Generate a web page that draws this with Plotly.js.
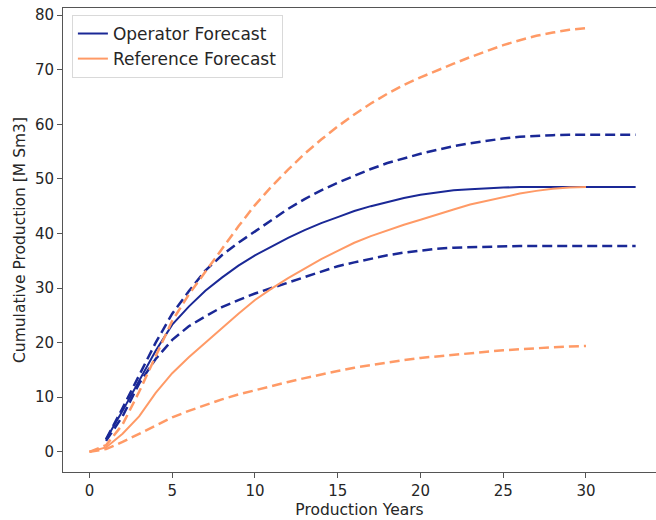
<!DOCTYPE html>
<html>
<head>
<meta charset="utf-8">
<script src="https://cdn.plot.ly/plotly-3.0.1.min.js"></script>
<style>html,body{margin:0;padding:0;background:#fff;}#chart{width:656px;height:520px;}</style>
</head>
<body>
<div id="chart"></div>
<script>
// Operator forecast (years 1..33)
const opYears = [1,2,3,4,5,6,7,8,9,10,11,12,13,14,15,16,17,18,19,20,21,22,23,24,25,26,27,28,29,30,31,32,33];
const opP50 = [2.3,7.5,13,18.5,23.3,26.6,29.5,31.9,34.1,36,37.6,39.2,40.6,41.9,43,44.1,45,45.8,46.5,47.1,47.5,47.9,48.1,48.3,48.4,48.5,48.5,48.5,48.5,48.5,48.5,48.5,48.5];
const opHigh = [2.3,8,14,20,25.3,29.4,33.2,36,38.3,40.4,42.5,44.5,46.3,47.9,49.3,50.6,51.8,52.9,53.8,54.6,55.3,56,56.5,57,57.4,57.7,57.9,58,58.1,58.1,58.1,58.1,58.1];
const opLow = [2,6.5,12.5,17,20.5,23,24.8,26.5,27.8,29,30,31,32,33,34,34.7,35.4,36,36.5,36.9,37.2,37.4,37.5,37.6,37.7,37.7,37.7,37.7,37.7,37.7,37.7,37.7,37.7];

// Reference forecast (years 0..30)
const refYears = [0,1,2,3,4,5,6,7,8,9,10,11,12,13,14,15,16,17,18,19,20,21,22,23,24,25,26,27,28,29,30];
const refP50 = [0,0.8,3.3,6.5,10.8,14.4,17.3,20,22.7,25.3,27.8,29.9,31.8,33.6,35.3,36.8,38.3,39.5,40.6,41.6,42.5,43.5,44.4,45.3,46,46.7,47.3,47.8,48.2,48.4,48.5];
const refHigh = [0,1.2,5,11,17.5,24,28.8,33,37.2,41.3,45.2,48.6,51.7,54.6,57.2,59.6,61.8,63.8,65.6,67.2,68.6,69.9,71.1,72.3,73.4,74.5,75.4,76.2,76.8,77.3,77.6];
const refLow = [0,0.5,1.8,3.3,4.9,6.3,7.5,8.6,9.6,10.5,11.3,12.1,12.8,13.5,14.2,14.8,15.4,15.9,16.4,16.8,17.2,17.5,17.8,18.1,18.4,18.6,18.8,19,19.2,19.3,19.4];

const xTicks = [0,5,10,15,20,25,30];
const yTicks = [0,10,20,30,40,50,60,70,80];

const blue = '#1a2896';
const orange = '#ff9a66';
const font = "'DejaVu Sans', sans-serif";

const traces = [
  {x: opYears, y: opP50, mode: 'lines', name: 'Operator Forecast', line: {color: blue, width: 2}},
  {x: opYears, y: opHigh, mode: 'lines', showlegend: false, line: {color: blue, width: 2.5, dash: '10px,5px'}},
  {x: opYears, y: opLow, mode: 'lines', showlegend: false, line: {color: blue, width: 2.5, dash: '10px,5px'}},
  {x: refYears, y: refP50, mode: 'lines', name: 'Reference Forecast', line: {color: orange, width: 2}},
  {x: refYears, y: refHigh, mode: 'lines', showlegend: false, line: {color: orange, width: 2.5, dash: '10px,5px'}},
  {x: refYears, y: refLow, mode: 'lines', showlegend: false, line: {color: orange, width: 2.5, dash: '10px,5px'}}
];

const layout = {
  width: 656, height: 520,
  margin: {l: 63, r: 0, t: 8, b: 48},
  paper_bgcolor: '#fff', plot_bgcolor: '#fff',
  font: {family: font, size: 15, color: '#262626'},
  showlegend: true,
  legend: {x: 0.015, y: 0.985, xanchor: 'left', yanchor: 'top',
           bgcolor: 'rgba(255,255,255,0.8)', bordercolor: '#d9d9d9', borderwidth: 1,
           tracegroupgap: 0, itemwidth: 30,
           font: {family: font, size: 17, color: '#262626'}},
  xaxis: {
    range: [-1.6, 34.23], tickvals: xTicks, ticktext: xTicks.map(String),
    showgrid: false, zeroline: false, showline: true, mirror: true, linecolor: '#555', linewidth: 1,
    ticks: 'outside', ticklen: 5, tickcolor: '#555',
    tickfont: {family: font, size: 15, color: '#262626'},
    title: {text: 'Production Years', font: {family: font, size: 15.5, color: '#262626'}, standoff: 5}
  },
  yaxis: {
    range: [-3.7, 81.3], tickvals: yTicks, ticktext: yTicks.map(String),
    showgrid: false, zeroline: false, showline: true, mirror: false, linecolor: '#555', linewidth: 1,
    ticks: 'outside', ticklen: 5, tickcolor: '#555',
    tickfont: {family: font, size: 15, color: '#262626'},
    title: {text: 'Cumulative Production [M Sm3]', font: {family: font, size: 15.5, color: '#262626'}, standoff: 5}
  }
};

Plotly.newPlot('chart', traces, layout, {displayModeBar: false, staticPlot: true});
</script>
</body>
</html>
